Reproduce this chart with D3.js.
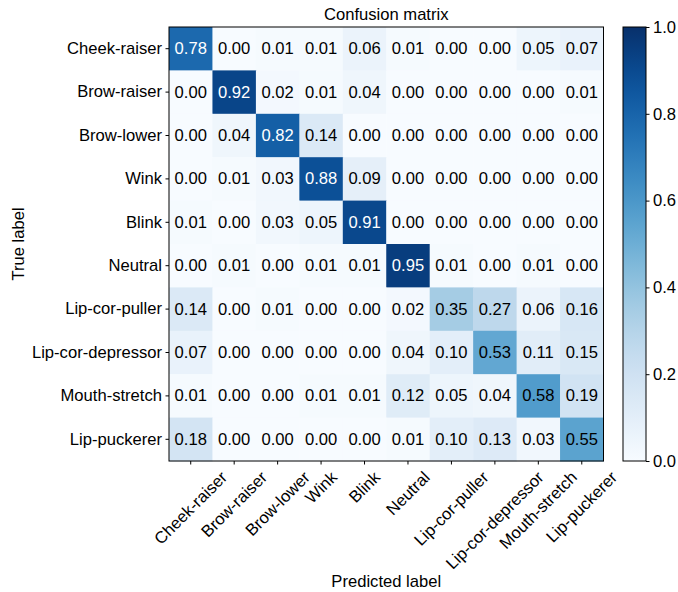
<!DOCTYPE html>
<html><head><meta charset="utf-8">
<script src="https://cdn.jsdelivr.net/npm/d3@7"></script>
<style>body{margin:0;background:#fff}svg{display:block}text{font-family:"Liberation Sans",Arial,Helvetica,sans-serif}</style>
</head><body>
<script>
const classes = ["Cheek-raiser","Brow-raiser","Brow-lower","Wink","Blink","Neutral","Lip-cor-puller","Lip-cor-depressor","Mouth-stretch","Lip-puckerer"];
const matrix = [
 [0.78,0.00,0.01,0.01,0.06,0.01,0.00,0.00,0.05,0.07],
 [0.00,0.92,0.02,0.01,0.04,0.00,0.00,0.00,0.00,0.01],
 [0.00,0.04,0.82,0.14,0.00,0.00,0.00,0.00,0.00,0.00],
 [0.00,0.01,0.03,0.88,0.09,0.00,0.00,0.00,0.00,0.00],
 [0.01,0.00,0.03,0.05,0.91,0.00,0.00,0.00,0.00,0.00],
 [0.00,0.01,0.00,0.01,0.01,0.95,0.01,0.00,0.01,0.00],
 [0.14,0.00,0.01,0.00,0.00,0.02,0.35,0.27,0.06,0.16],
 [0.07,0.00,0.00,0.00,0.00,0.04,0.10,0.53,0.11,0.15],
 [0.01,0.00,0.00,0.01,0.01,0.12,0.05,0.04,0.58,0.19],
 [0.18,0.00,0.00,0.00,0.00,0.01,0.10,0.13,0.03,0.55]
];
const colorbarTicks = [0.0,0.2,0.4,0.6,0.8,1.0];
const title = "Confusion matrix";
const xTitle = "Predicted label";
const yTitle = "True label";

const W = 678, H = 592;
const L = 169, R = 603.5, T = 27, B = 461;
const cbL = 623, cbR = 646;
const FS = 16.6;

const svg = d3.select("body").append("svg").attr("width", W).attr("height", H);
const x = d3.scaleBand().domain(d3.range(classes.length)).range([L, R]);
const y = d3.scaleBand().domain(d3.range(classes.length)).range([T, B]);
const color = d3.scaleSequential(d3.interpolateBlues).domain([0, 1]);

const cells = [];
matrix.forEach((row, i) => row.forEach((v, j) => cells.push({i, j, v})));

svg.append("g").selectAll("rect").data(cells).join("rect")
  .attr("x", d => x(d.j)).attr("y", d => y(d.i))
  .attr("width", x.bandwidth() + 0.5).attr("height", y.bandwidth() + 0.5)
  .attr("fill", d => color(d.v));

svg.append("g").selectAll("text").data(cells).join("text")
  .attr("x", d => x(d.j) + x.bandwidth() / 2)
  .attr("y", d => y(d.i) + y.bandwidth() / 2)
  .attr("text-anchor", "middle").attr("dominant-baseline", "central")
  .attr("font-size", FS)
  .attr("fill", d => d.v > 0.7 ? "#fff" : "#000")
  .text(d => d.v.toFixed(2));

svg.append("rect").attr("x", L).attr("y", T).attr("width", R - L).attr("height", B - T)
  .attr("fill", "none").attr("stroke", "#000").attr("stroke-width", 1);

// y axis
const yAxis = d3.axisLeft(y).tickSize(3.5).tickPadding(3.5).tickFormat(i => classes[i]);
const gy = svg.append("g").attr("transform", `translate(${L},0)`).call(yAxis);
gy.select(".domain").remove();
gy.selectAll("text").attr("font-size", FS).attr("fill", "#000").attr("font-family", null);
gy.selectAll("line").attr("stroke", "#000");

// x axis
const xAxis = d3.axisBottom(x).tickSize(3.5).tickFormat(i => classes[i]);
const gx = svg.append("g").attr("transform", `translate(0,${B})`).call(xAxis);
gx.select(".domain").remove();
gx.selectAll("line").attr("stroke", "#000");
gx.selectAll("text").each(function(i) {
  const t = d3.select(this);
  t.attr("font-size", FS).attr("fill", "#000").attr("font-family", null)
   .attr("text-anchor", "middle").attr("dominant-baseline", "central").attr("dy", null);
  const w = this.getComputedTextLength();
  const h = FS * 1.1;
  const half = (w + h) * Math.SQRT1_2 / 2;
  const cy = 3.5 + 3.5 + half;
  t.attr("x", 0).attr("y", 0).attr("transform", `translate(0,${cy}) rotate(-45)`);
});

// colorbar
const cy = d3.scaleLinear().domain([0, 1]).range([B, T]);
const defs = svg.append("defs");
const grad = defs.append("linearGradient").attr("id", "cbg").attr("x1", 0).attr("y1", 1).attr("x2", 0).attr("y2", 0);
d3.range(0, 1.0001, 0.05).forEach(s => grad.append("stop").attr("offset", s).attr("stop-color", color(s)));
svg.append("rect").attr("x", cbL).attr("y", T).attr("width", cbR - cbL).attr("height", B - T)
  .attr("fill", "url(#cbg)").attr("stroke", "#000").attr("stroke-width", 1);
const cAxis = d3.axisRight(cy).tickValues(colorbarTicks).tickSize(3.5).tickPadding(3.5).tickFormat(d3.format(".1f"));
const gc = svg.append("g").attr("transform", `translate(${cbR},0)`).call(cAxis);
gc.select(".domain").remove();
gc.selectAll("text").attr("font-size", FS).attr("fill", "#000").attr("font-family", null);
gc.selectAll("line").attr("stroke", "#000");

// titles
svg.append("text").attr("x", (L + R) / 2).attr("y", 20).attr("text-anchor", "middle")
  .attr("font-size", FS).text(title);
svg.append("text").attr("x", (L + R) / 2).attr("y", 587).attr("text-anchor", "middle")
  .attr("font-size", FS).text(xTitle);
svg.append("text").attr("transform", `translate(24,${(T + B) / 2}) rotate(-90)`).attr("text-anchor", "middle")
  .attr("font-size", FS).text(yTitle);
</script>
</body></html>
